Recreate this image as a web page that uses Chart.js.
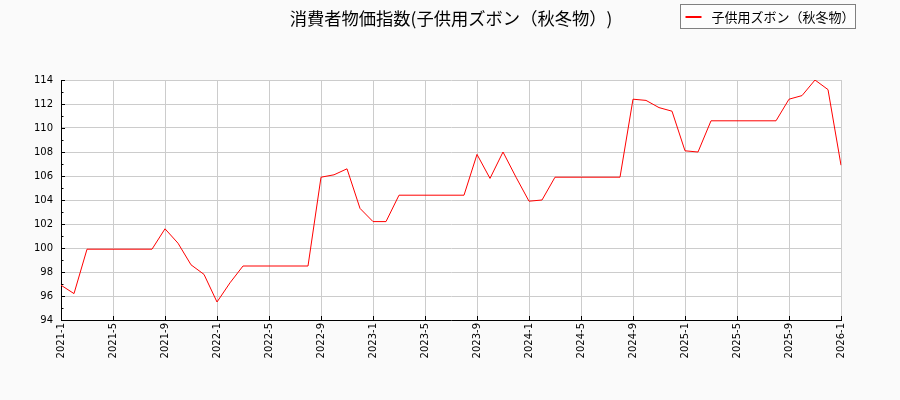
<!DOCTYPE html>
<html>
<head>
<meta charset="utf-8">
<script src="https://cdn.jsdelivr.net/npm/chart.js@4.4.1/dist/chart.umd.min.js"></script>
<style>
  body { margin: 0; background: #fafafa; }
  #wrap { width: 900px; height: 400px; position: relative; }
</style>
</head>
<body>
<div id="wrap"><canvas id="myChart" width="900" height="400"></canvas></div>
<script>
'use strict';

let chartTitle = '消費者物価指数(子供用ズボン（秋冬物）)';
let seriesName = '子供用ズボン（秋冬物）';

// months 2021-1 .. 2026-1
let months = [];
for (let y = 2021; y <= 2026; y++) {
    for (let m = 1; m <= 12; m++) {
        if (y === 2026 && m > 1) break;
        months.push(y + '-' + m);
    }
}

let prices = [
    96.9, 96.2, 99.9, 99.9, 99.9, 99.9, 99.9, 99.9,
    101.6, 100.4, 98.6, 97.8, 95.5, 97.1, 98.5, 98.5, 98.5, 98.5, 98.5, 98.5,
    105.9, 106.1, 106.6, 103.3, 102.2, 102.2, 104.4, 104.4, 104.4, 104.4, 104.4, 104.4,
    107.8, 105.8, 108.0, 105.9, 103.9, 104.0, 105.9, 105.9, 105.9, 105.9, 105.9, 105.9,
    112.4, 112.3, 111.7, 111.4, 108.1, 108.0, 110.6, 110.6, 110.6, 110.6, 110.6, 110.6,
    112.4, 112.7, 114.0, 113.2, 106.9
];

let yMin = 94;
let yMax = 114;
let gridColor = '#cccccc';

// backgrounds, title, inward tick marks and the boxed legend
let decorPlugin = {
    id: 'decor',
    beforeDraw(chart) {
        let ctx = chart.ctx;
        let a = chart.chartArea;
        ctx.save();
        ctx.fillStyle = '#fafafa';
        ctx.fillRect(0, 0, chart.width, chart.height);
        ctx.fillStyle = '#ffffff';
        ctx.fillRect(a.left, a.top, a.right - a.left, a.bottom - a.top);
        ctx.restore();
    },
    afterDraw(chart) {
        let ctx = chart.ctx;
        let a = chart.chartArea;
        let ys = chart.scales.y;
        let xs = chart.scales.x;
        ctx.save();

        // title, centred on the whole figure
        ctx.fillStyle = '#000000';
        ctx.font = '17.3px "Noto Sans CJK JP"';
        ctx.textAlign = 'center';
        ctx.textBaseline = 'middle';
        ctx.fillText(chartTitle, chart.width / 2 + 1, 18.5);

        ctx.strokeStyle = '#000000';
        ctx.lineWidth = 1;
        ctx.beginPath();
        for (let v = yMin; v <= yMax; v++) {
            let py = Math.round(ys.getPixelForValue(v)) + 0.5;
            let len = v % 2 === 0 ? 4 : 2.5;
            ctx.moveTo(a.left, py);
            ctx.lineTo(a.left + len, py);
        }
        for (let i = 0; i < months.length; i += 4) {
            let px = Math.round(xs.getPixelForValue(i)) + 0.5;
            ctx.moveTo(px, a.bottom);
            ctx.lineTo(px, a.bottom - 4);
        }
        ctx.stroke();

        // legend
        let ds = chart.data.datasets[0];
        let bx = 680.5, by = 4.5, bw = 175, bh = 24;
        ctx.fillStyle = 'rgba(255,255,255,0.6)';
        ctx.fillRect(bx, by, bw, bh);
        ctx.strokeStyle = '#808080';
        ctx.strokeRect(bx, by, bw, bh);
        ctx.strokeStyle = ds.borderColor;
        ctx.lineWidth = 2;
        ctx.beginPath();
        ctx.moveTo(bx + 5, by + 12.5);
        ctx.lineTo(bx + 21, by + 12.5);
        ctx.stroke();
        ctx.fillStyle = '#000000';
        ctx.font = '13px "Noto Sans CJK JP"';
        ctx.textAlign = 'left';
        ctx.textBaseline = 'middle';
        ctx.fillText(ds.label, bx + 31, by + 12.5);
        ctx.restore();
    }
};

let ctx = document.getElementById('myChart').getContext('2d');
let myChart = new Chart(ctx, {
    type: 'line',
    data: {
        labels: months,
        datasets: [{
            label: seriesName,
            data: prices,
            borderColor: '#ff0000',
            borderWidth: 1,
            pointRadius: 0,
            tension: 0,
            fill: false
        }]
    },
    options: {
        responsive: false,
        animation: false,
        devicePixelRatio: 1,
        layout: {
            padding: { left: 0, right: 59, top: 80, bottom: 0 }
        },
        plugins: {
            legend: { display: false },
            tooltip: { enabled: false },
            title: { display: false }
        },
        scales: {
            x: {
                type: 'category',
                offset: false,
                grid: {
                    drawTicks: false,
                    color: (c) => (c.index % 4 === 0 ? gridColor : 'rgba(0,0,0,0)')
                },
                border: { color: '#000000', width: 1 },
                ticks: {
                    autoSkip: false,
                    maxRotation: 90,
                    minRotation: 90,
                    padding: 3,
                    color: '#000000',
                    font: { family: '"DejaVu Sans"', size: 10 },
                    callback: function (val, i) {
                        return i % 4 === 0 ? this.getLabelForValue(val) : '';
                    }
                },
                afterFit(scale) { scale.height = 80; }
            },
            y: {
                min: yMin,
                max: yMax,
                grid: {
                    drawTicks: false,
                    color: (c) => (c.tick && c.tick.value % 2 === 0 ? gridColor : 'rgba(0,0,0,0)')
                },
                border: { color: '#000000', width: 1 },
                ticks: {
                    stepSize: 1,
                    autoSkip: false,
                    padding: 8,
                    color: '#000000',
                    font: { family: '"DejaVu Sans"', size: 10 },
                    callback: (v) => (v % 2 === 0 ? String(v) : '')
                },
                afterFit(scale) { scale.width = 61; }
            }
        }
    },
    plugins: [decorPlugin]
});
</script>
</body>
</html>
